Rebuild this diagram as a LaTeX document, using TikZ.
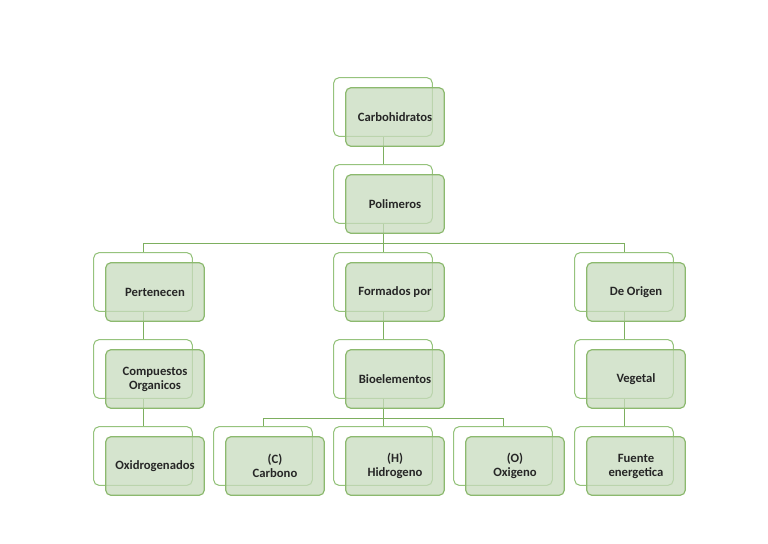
\documentclass[tikz,border=0pt]{standalone}
\usepackage{fontspec}
\setmainfont{Carlito}
\definecolor{linegreen}{RGB}{125,175,95}
\definecolor{backgreen}{RGB}{150,195,125}
\definecolor{frontgreen}{RGB}{140,185,110}
\definecolor{fillgreen}{RGB}{200,219,190}
\begin{document}
\begin{tikzpicture}[x=0.75pt, y=-0.75pt, thick,
    back/.style={draw=backgreen, fill=white, rounded corners=4pt, line width=0.8pt,
        minimum width=74pt, minimum height=44pt},
    front/.style={draw=frontgreen, fill=fillgreen, fill opacity=0.75, text opacity=1,
        rounded corners=4pt, line width=0.9pt, minimum width=74pt, minimum height=44pt,
        align=center, font=\fontsize{9.5}{10.5}\selectfont\bfseries, text=black!85},
    link/.style={draw=linegreen, line width=0.7pt}]

        \useasboundingbox (0,0) rectangle (768,543);

        % Marcos de fondo (centros)
        \node[back] (carboB) at (383,107) {};
        \node[back] (poliB) at (383,194) {};
        \node[back] (pertB) at (143,282) {};
        \node[back] (formB) at (383,282) {};
        \node[back] (origB) at (624,282) {};
        \node[back] (compB) at (143,369) {};
        \node[back] (bioB) at (383,369) {};
        \node[back] (vegB) at (624,369) {};
        \node[back] (oxiB) at (143,456) {};
        \node[back] (carbB) at (263,456) {};
        \node[back] (hidB) at (383,456) {};
        \node[back] (oxgB) at (503,456) {};
        \node[back] (fuenB) at (624,456) {};

        % Conectores
        \draw[link] (carboB.south) -- (poliB.north);
        \draw[link] (poliB.south) -- ++(0,20) -| (pertB.north);
        \draw[link] (poliB.south) -- ++(0,20) -| (origB.north);
        \draw[link] (poliB.south) -- (formB.north);
        \draw[link] (pertB.south) -- (compB.north);
        \draw[link] (compB.south) -- (oxiB.north);
        \draw[link] (formB.south) -- (bioB.north);
        \draw[link] (bioB.south) -- ++(0,20) -| (carbB.north);
        \draw[link] (bioB.south) -- ++(0,20) -| (oxgB.north);
        \draw[link] (bioB.south) -- (hidB.north);
        \draw[link] (origB.south) -- (vegB.north);
        \draw[link] (vegB.south) -- (fuenB.north);

        % Cajas de frente
        \node[front] (carbo) at ([shift={(12,10)}]carboB.center) {Carbohidratos};
        \node[front] (poli) at ([shift={(12,10)}]poliB.center) {Polimeros};
        \node[front] (pert) at ([shift={(12,10)}]pertB.center) {Pertenecen};
        \node[front] (form) at ([shift={(12,10)}]formB.center) {Formados por};
        \node[front] (orig) at ([shift={(12,10)}]origB.center) {De Origen};
        \node[front] (comp) at ([shift={(12,10)}]compB.center) {Compuestos\\Organicos};
        \node[front] (bio) at ([shift={(12,10)}]bioB.center) {Bioelementos};
        \node[front] (veg) at ([shift={(12,10)}]vegB.center) {Vegetal};
        \node[front] (oxi) at ([shift={(12,10)}]oxiB.center) {Oxidrogenados};
        \node[front] (carb) at ([shift={(12,10)}]carbB.center) {(C)\\Carbono};
        \node[front] (hid) at ([shift={(12,10)}]hidB.center) {(H)\\Hidrogeno};
        \node[front] (oxg) at ([shift={(12,10)}]oxgB.center) {(O)\\Oxigeno};
        \node[front] (fuen) at ([shift={(12,10)}]fuenB.center) {Fuente\\energetica};

    \end{tikzpicture}
\end{document}
